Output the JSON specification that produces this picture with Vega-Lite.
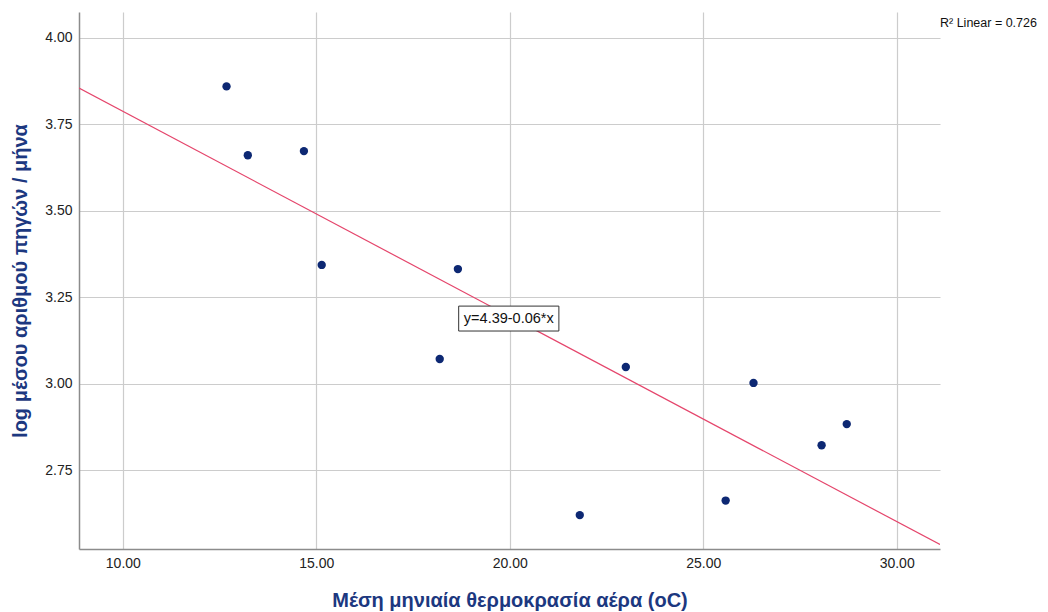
{
  "$schema": "https://vega.github.io/schema/vega-lite/v6.json",
  "autosize": "none",
  "width": 861,
  "height": 537,
  "padding": {"left": 79, "top": 12, "right": 108, "bottom": 63},
  "background": "white",
  "config": {
    "view": {"stroke": null},
    "font": "Liberation Sans",
    "axis": {
      "labelFont": "Liberation Sans",
      "labelFontSize": 14,
      "labelColor": "#222222",
      "domainColor": "#8c8c8c",
      "domainWidth": 1.5,
      "gridColor": "#cccccc",
      "gridWidth": 1.2,
      "ticks": false,
      "titleFont": "Liberation Sans",
      "titleFontSize": 20,
      "titleFontWeight": "bold",
      "titleColor": "#1c3880"
    }
  },
  "datasets": {
    "points": [
      {"temp": 12.68, "logcount": 3.859},
      {"temp": 13.23, "logcount": 3.660},
      {"temp": 14.68, "logcount": 3.672},
      {"temp": 15.14, "logcount": 3.343},
      {"temp": 18.66, "logcount": 3.331},
      {"temp": 18.19, "logcount": 3.071},
      {"temp": 21.81, "logcount": 2.620},
      {"temp": 23.00, "logcount": 3.048},
      {"temp": 25.58, "logcount": 2.662},
      {"temp": 26.30, "logcount": 3.002},
      {"temp": 28.06, "logcount": 2.822},
      {"temp": 28.71, "logcount": 2.883}
    ],
    "fit": [
      {"temp": 8.867, "logcount": 3.854},
      {"temp": 31.12, "logcount": 2.535}
    ],
    "eqbox": [
      {"x1": 18.68, "x2": 21.27, "y1": 3.152, "y2": 3.224, "tx": 19.975, "ty": 3.188, "label": "y=4.39-0.06*x"}
    ],
    "rsq": [
      {"tx": 31.12, "ty": 4.043, "label": "R² Linear = 0.726"}
    ]
  },
  "layer": [
    {
      "data": {"name": "points"},
      "mark": {"type": "point", "filled": true, "opacity": 1, "size": 70, "color": "#0d2873"},
      "encoding": {
        "x": {
          "field": "temp", "type": "quantitative",
          "scale": {"domain": [8.867, 31.12], "nice": false, "zero": false},
          "axis": {"values": [10, 15, 20, 25, 30], "format": ".2f", "title": "Μέση μηνιαία θερμοκρασία αέρα (oC)", "titlePadding": 20, "labelPadding": 7}
        },
        "y": {
          "field": "logcount", "type": "quantitative",
          "scale": {"domain": [2.522, 4.074], "nice": false, "zero": false},
          "axis": {"values": [2.75, 3.0, 3.25, 3.5, 3.75, 4.0], "format": ".2f", "title": "log μέσου αριθμού πηγών / μήνα", "titlePadding": 14, "labelPadding": 7}
        }
      }
    },
    {
      "data": {"name": "fit"},
      "mark": {"type": "line", "color": "#e5466c", "strokeWidth": 1.2, "clip": true},
      "encoding": {
        "x": {"field": "temp", "type": "quantitative"},
        "y": {"field": "logcount", "type": "quantitative"}
      }
    },
    {
      "data": {"name": "eqbox"},
      "mark": {"type": "rect", "fill": "white", "stroke": "#333333", "strokeWidth": 1},
      "encoding": {
        "x": {"field": "x1", "type": "quantitative"},
        "x2": {"field": "x2"},
        "y": {"field": "y1", "type": "quantitative"},
        "y2": {"field": "y2"}
      }
    },
    {
      "data": {"name": "eqbox"},
      "mark": {"type": "text", "fontSize": 14.5, "color": "#111111", "align": "center", "baseline": "middle", "font": "Liberation Sans"},
      "encoding": {
        "x": {"field": "tx", "type": "quantitative"},
        "y": {"field": "ty", "type": "quantitative"},
        "text": {"field": "label"}
      }
    },
    {
      "data": {"name": "rsq"},
      "mark": {"type": "text", "fontSize": 12.5, "color": "#111111", "align": "left", "baseline": "middle", "font": "Liberation Sans"},
      "encoding": {
        "x": {"field": "tx", "type": "quantitative"},
        "y": {"field": "ty", "type": "quantitative"},
        "text": {"field": "label"}
      }
    }
  ]
}
